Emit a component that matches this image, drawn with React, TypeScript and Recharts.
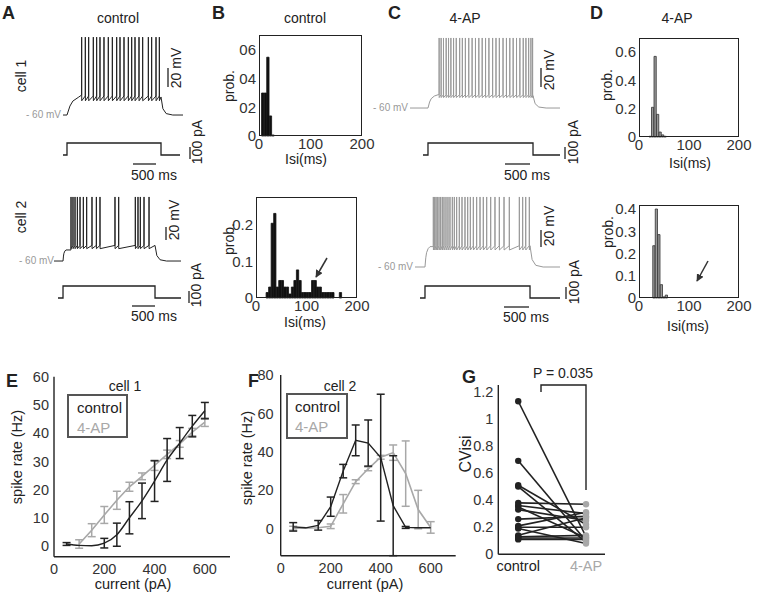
import React from 'react';
import { LineChart, Line, XAxis, YAxis, BarChart, Bar, ErrorBar } from 'recharts';

const FONT = '"Liberation Sans", Arial, Helvetica, sans-serif';
const BLACK = '#222';
const GRAY = '#a8a8a8';
const TRACE_GRAY = '#999';

// ---------- Panels A / C : spike times (ms after current-step onset) ----------
const spikesA1 = [312, 390, 461, 560, 631, 702, 787, 879, 965, 1057, 1128, 1213, 1305, 1376, 1447, 1532, 1610, 1731, 1801, 1894, 1965];
const spikesA2 = [174, 217, 261, 312, 370, 442, 514, 630, 725, 804, 1130, 1210, 1572, 1630, 1681, 1761, 1870];
const spikesC1 = [212, 250, 295, 346, 391, 436, 487, 538, 603, 654, 712, 776, 840, 904, 968, 1032, 1096, 1160, 1231, 1295, 1359, 1429, 1494, 1558, 1622, 1686, 1750, 1814, 1865, 1917, 1960, 1992];
const spikesC2 = [159, 184, 210, 235, 267, 298, 330, 362, 400, 438, 476, 521, 559, 603, 654, 705, 762, 813, 864, 921, 984, 1048, 1111, 1175, 1251, 1333, 1416, 1505, 1606, 1797, 1860, 1918, 1987];

// membrane levels (mV): rest, plateau start, threshold, spike peak, after-hyperpolarisation, plateau end
const restMv = [-60, -60, -60, -60];
const plateauStartMv = [-39, -43, -46, -36];
const thresholdMv = [-40, -36, -46, -35];
const peakMv = [22, 38.5, 13.7, 22.4];
const ahpMv = [-45, -41, -49, -40];
const plateauEndMv = [-41, -36, -47, -35];
const chargeTauMs = [250, 40, 120, 60];
const stepDurationMs = 2000;
const stepAmpPa = [100, 100, 100, 100];

// ---------- Panels B / D : ISI histograms ----------
const bTopBins = [7.5, 12.5, 17.5, 22.5, 27.5];
const bTopProb = [0.3, 0.3, 0.55, 0.14, 0.007];
const bBotBins = [22.5, 27.5, 32.5, 37.5, 42.5, 47.5, 52.5, 57.5, 62.5, 67.5, 72.5, 77.5, 82.5, 87.5, 92.5, 97.5, 102.5, 107.5, 112.5, 117.5, 122.5, 127.5, 132.5, 137.5, 142.5, 147.5, 152.5, 157.5, 162.5, 167.5];
const bBotProb = [0.015, 0.03, 0.205, 0.232, 0.03, 0.048, 0.048, 0.03, 0.03, 0.011, 0.03, 0.048, 0.077, 0.048, 0.015, 0.015, 0.015, 0.015, 0.048, 0.048, 0.03, 0.03, 0.015, 0.015, 0.015, 0.015, 0.015, 0, 0, 0.015];
const dTopBins = [22.5, 27.5, 32.5, 37.5, 42.5, 47.5, 52.5];
const dTopProb = [0.005, 0.21, 0.57, 0.16, 0.035, 0.015, 0.005];
const dBotBins = [30, 35, 40, 45, 50, 55];
const dBotProb = [0.235, 0.4, 0.285, 0.06, 0.005, 0.013];
const isiTicks = [0, 100, 200];
const bTopYTicks = [0, 0.2, 0.4, 0.6];
const bTopYLabels = ['0', '02', '04', '06'];
const bBotYTicks = [0, 0.1, 0.2];
const bBotYLabels = ['0', '0.1', '0.2'];
const dTopYTicks = [0, 0.2, 0.4, 0.6];
const dTopYLabels = ['0', '0.2', '0.4', '0.6'];
const dBotYTicks = [0, 0.1, 0.2, 0.3, 0.4];
const dBotYLabels = ['0', '0.1', '0.2', '0.3', '0.4'];

// ---------- Panels E / F : f-I curves ----------
const currentsPa = [50, 100, 150, 200, 250, 300, 350, 400, 450, 500, 550, 600];
const eCtrlRate = [0.7, 0.2, 0.1, 1.0, 4.0, 10.0, 16.0, 23.0, 30.5, 36.5, 42.5, 48.0];
const eCtrlErr = [0.5, 0, 0, 1.7, 4.1, 5.7, 6.3, 7.2, 7.6, 5.5, 3.8, 2.9];
const eApCurrentsPa = [100, 150, 200, 250, 300, 350, 400, 450, 500, 550, 600];
const eApRate = [0.7, 5.6, 11.0, 16.2, 21.0, 24.7, 28.6, 32.5, 36.2, 40.4, 43.9];
const eApErr = [1.5, 2.3, 3.0, 3.2, 1.6, 1.2, 1.8, 1.5, 1.2, 1.3, 1.5];
const fCtrlRate = [1.0, 0.5, 1.8, 11.5, 30.0, 46.0, 44.6, 37.0, 12.0, 0.7, 0.5, 0.5];
const fCtrlErr = [2.2, 0, 2.5, 5.0, 3.5, 8.0, 12.0, 33.0, 26.0, 0.5, 0, 0];
const fApRate = [0.3, 0.3, 0.5, 1.3, 13.0, 24.5, 31.2, 37.2, 39.6, 28.7, 10.0, 0.7];
const fApErr = [1.0, 0, 0, 1.2, 4.8, 1.0, 1.0, 1.0, 4.0, 17.0, 10.0, 3.0];
const currentTicks = [0, 200, 400, 600];
const eRateTicks = [0, 10, 20, 30, 40, 50, 60];
const fRateTicks = [0, 20, 40, 60, 80];

// ---------- Panel G : CV of ISI, paired ----------
const gCategories = ['control', '4-AP'];
const gControl = [1.13, 0.69, 0.51, 0.5, 0.38, 0.36, 0.35, 0.33, 0.26, 0.21, 0.2, 0.19, 0.14, 0.13, 0.12, 0.11];
const gAP = [0.13, 0.1, 0.22, 0.09, 0.37, 0.3, 0.12, 0.25, 0.28, 0.31, 0.2, 0.08, 0.27, 0.14, 0.12, 0.11];
const gTicks = [0, 0.2, 0.4, 0.6, 0.8, 1, 1.2];

// ---------- builders ----------
type Pt = { t: number; v: number };
function buildVoltage(spikes: number[], k: number, t0: number, t1: number): Pt[] {
  const rest = restMv[k], p0 = plateauStartMv[k], thr = thresholdMv[k];
  const pk = peakMv[k], ahp = ahpMv[k], p1 = plateauEndMv[k], tau = chargeTauMs[k];
  const off = stepDurationMs;
  const pts: Pt[] = [{ t: t0, v: rest }, { t: 0, v: rest }];
  const charge = [[0.25, 0.45], [0.5, 0.7], [1, 0.9], [1.6, 1]];
  charge.forEach(([f, frac]) => {
    const t = f * tau;
    if (t < spikes[0] - 3) pts.push({ t, v: rest + (p0 - rest) * frac });
  });
  spikes.forEach((s, i) => {
    pts.push({ t: s - 1.5, v: i === 0 ? p0 : thr });
    pts.push({ t: s, v: pk });
    pts.push({ t: s + 1.5, v: ahp });
  });
  pts.push({ t: off, v: p1 });
  pts.push({ t: off + 40, v: rest + (p1 - rest) * 0.35 });
  pts.push({ t: off + 110, v: rest + (p1 - rest) * 0.08 });
  pts.push({ t: off + 250, v: rest });
  pts.push({ t: t1, v: rest });
  return pts;
}
function buildCurrent(k: number, t0: number, t1: number): Pt[] {
  const a = stepAmpPa[k];
  return [
    { t: t0, v: 0 }, { t: 0, v: 0 }, { t: 0, v: a },
    { t: stepDurationMs, v: a }, { t: stepDurationMs, v: 0 }, { t: t1, v: 0 },
  ];
}

function Trace(props: { left: number; top: number; width: number; height: number; data: Pt[]; dx: [number, number]; dy: [number, number]; color: string; sw: number }) {
  const { left, top, width, height, data, dx, dy, color, sw } = props;
  return (
    <div style={{ position: 'absolute', left, top }}>
      <LineChart width={width} height={height} data={data} margin={{ top: 0, right: 0, bottom: 0, left: 0 }}>
        <XAxis type="number" dataKey="t" domain={dx} hide allowDataOverflow />
        <YAxis type="number" domain={dy} hide allowDataOverflow />
        <Line type="linear" dataKey="v" stroke={color} strokeWidth={sw} dot={false} isAnimationActive={false} />
      </LineChart>
    </div>
  );
}

type Box = { x: number; y: number; w: number; h: number };
function Hist(props: { box: Box; bins: number[]; probs: number[]; yMax: number; yTicks: number[]; yLabels: string[]; fill: string; stroke: string; binW: number }) {
  const { box, bins, probs, yMax, yTicks, yLabels, fill, stroke, binW } = props;
  const data = bins.map((b, i) => ({ bin: b, p: probs[i] }));
  const yw = 40, mt = 5, mr = 14, xh = 26;
  const tickStyle = { fontSize: 15, fill: '#333', fontFamily: FONT };
  return (
    <div style={{ position: 'absolute', left: box.x - yw, top: box.y - mt }}>
      <BarChart width={yw + box.w + mr} height={mt + box.h + xh} data={data} margin={{ top: mt, right: mr, bottom: 0, left: 0 }} barCategoryGap={0} barGap={0}>
        <XAxis type="number" dataKey="bin" domain={[0, 200]} ticks={isiTicks} height={xh} tickLine={false} axisLine={false} tickSize={0} tickMargin={2} tick={tickStyle} interval={0} />
        <YAxis type="number" domain={[0, yMax]} ticks={yTicks} tickFormatter={(v: number, i: number) => yLabels[i]} width={yw} tickLine={false} axisLine={false} tickSize={0} tickMargin={3} tick={tickStyle} interval={0} />
        <Bar dataKey="p" fill={fill} stroke={stroke} strokeWidth={0.8} barSize={(box.w * binW) / 200} isAnimationActive={false} />
      </BarChart>
      <div style={{ position: 'absolute', left: yw, top: mt, width: box.w, height: box.h, border: '1px solid #222', boxSizing: 'border-box', pointerEvents: 'none' }} />
    </div>
  );
}

const axisLine = { stroke: BLACK, strokeWidth: 1.4 };
const tick14 = { fontSize: 14.5, fill: '#333', fontFamily: FONT };

function GTick(p: any) {
  const v = p.payload.value;
  return (
    <text x={p.x} y={p.y} dy={17} textAnchor="middle" fontSize={14.5} fontFamily={FONT} fill={v === 1 ? BLACK : GRAY}>
      {gCategories[v - 1]}
    </text>
  );
}

const VText = (p: { x: number; y: number; size?: number; fill?: string; children: React.ReactNode }) => (
  <text x={p.x} y={p.y} transform={`rotate(-90 ${p.x} ${p.y})`} textAnchor="middle" dominantBaseline="central" fontSize={p.size ?? 14} fill={p.fill ?? BLACK}>
    {p.children}
  </text>
);

export default function App() {
  const A1 = buildVoltage(spikesA1, 0, -85, 2468);
  const A1i = buildCurrent(0, -85, 2404);
  const A2 = buildVoltage(spikesA2, 1, -196, 2565);
  const A2i = buildCurrent(1, -109, 2565);
  const C1 = buildVoltage(spikesC1, 2, -343, 2514);
  const C1i = buildCurrent(2, -95, 2514);
  const C2 = buildVoltage(spikesC2, 3, -190, 2571);
  const C2i = buildCurrent(3, -95, 2571);

  const eCtrl = currentsPa.map((c, i) => ({ x: c, y: eCtrlRate[i], e: eCtrlErr[i] }));
  const eAp = eApCurrentsPa.map((c, i) => ({ x: c, y: eApRate[i], e: eApErr[i] }));
  const fCtrl = currentsPa.map((c, i) => ({ x: c, y: fCtrlRate[i], e: fCtrlErr[i] }));
  const fAp = currentsPa.map((c, i) => ({ x: c, y: fApRate[i], e: fApErr[i] }));
  const gData = [
    Object.fromEntries([['x', 1], ...gControl.map((v, i) => [`p${i}`, v])]),
    Object.fromEntries([['x', 2], ...gAP.map((v, i) => [`p${i}`, v])]),
  ];

  const gDot = (p: any) => (
    <circle key={`${p.dataKey}-${p.index}`} cx={p.cx} cy={p.cy} r={3.2} fill={p.payload.x === 1 ? BLACK : GRAY} stroke="none" />
  );

  return (
    <div style={{ position: 'absolute', left: 0, top: 0, width: 757, height: 595, background: '#fff', overflow: 'hidden', fontFamily: FONT }}>
      {/* A */}
      <Trace left={63} top={30} width={120} height={95} data={A1} dx={[-85, 2468]} dy={[-70.5, 29.5]} color={BLACK} sw={1} />
      <Trace left={63} top={140} width={117} height={18} data={A1i} dx={[-85, 2404]} dy={[-25, 125]} color={BLACK} sw={1.3} />
      <Trace left={54} top={190} width={127} height={80} data={A2} dx={[-196, 2565]} dy={[-73.8, 49.2]} color={BLACK} sw={1} />
      <Trace left={58} top={283} width={123} height={18} data={A2i} dx={[-109, 2565]} dy={[-25, 125]} color={BLACK} sw={1.3} />
      {/* C */}
      <Trace left={410} top={30} width={150} height={90} data={C1} dx={[-343, 2514]} dy={[-72.6, 22.1]} color={TRACE_GRAY} sw={1} />
      <Trace left={423} top={140} width={137} height={18} data={C1i} dx={[-95, 2514]} dy={[-25, 125]} color={BLACK} sw={1.3} />
      <Trace left={415} top={190} width={145} height={85} data={C2} dx={[-190, 2571]} dy={[-69.4, 30.6]} color={TRACE_GRAY} sw={1} />
      <Trace left={420} top={283} width={140} height={18} data={C2i} dx={[-95, 2571]} dy={[-25, 125]} color={BLACK} sw={1.3} />

      {/* B, D */}
      <Hist box={{ x: 259, y: 35, w: 103, h: 101 }} bins={bTopBins} probs={bTopProb} yMax={0.705} yTicks={bTopYTicks} yLabels={bTopYLabels} fill="#111" stroke="#111" binW={5} />
      <Hist box={{ x: 256, y: 197, w: 101, h: 101 }} bins={bBotBins} probs={bBotProb} yMax={0.277} yTicks={bBotYTicks} yLabels={bBotYLabels} fill="#111" stroke="#111" binW={5} />
      <Hist box={{ x: 639, y: 38, w: 100, h: 99 }} bins={dTopBins} probs={dTopProb} yMax={0.7} yTicks={dTopYTicks} yLabels={dTopYLabels} fill="#999" stroke="#333" binW={5} />
      <Hist box={{ x: 639, y: 205, w: 100, h: 93 }} bins={dBotBins} probs={dBotProb} yMax={0.418} yTicks={dBotYTicks} yLabels={dBotYLabels} fill="#999" stroke="#333" binW={5} />

      {/* E */}
      <div style={{ position: 'absolute', left: 0, top: 360 }}>
        <LineChart width={240} height={226.7} margin={{ top: 16.8, right: 10, bottom: 0, left: 0 }}>
          <XAxis type="number" dataKey="x" domain={[0, 700]} ticks={currentTicks} height={30} tickLine={false} tickSize={0} tickMargin={7} axisLine={axisLine} tick={tick14} allowDataOverflow interval={0} />
          <YAxis type="number" domain={[-3.8, 60]} ticks={eRateTicks} width={54} tickLine={false} tickSize={0} tickMargin={5} axisLine={axisLine} tick={tick14} allowDataOverflow interval={0} />
          <Line data={eAp} dataKey="y" type="linear" stroke={GRAY} strokeWidth={1.6} dot={false} isAnimationActive={false}>
            <ErrorBar dataKey="e" width={4} stroke={GRAY} strokeWidth={1.5} direction="y" />
          </Line>
          <Line data={eCtrl} dataKey="y" type="monotone" stroke={BLACK} strokeWidth={1.4} dot={false} isAnimationActive={false}>
            <ErrorBar dataKey="e" width={4} stroke={BLACK} strokeWidth={1.5} direction="y" />
          </Line>
        </LineChart>
      </div>

      {/* F */}
      <div style={{ position: 'absolute', left: 240, top: 360 }}>
        <LineChart width={225.7} height={233.7} margin={{ top: 15, right: 10, bottom: 0, left: 0 }}>
          <XAxis type="number" dataKey="x" domain={[0, 700]} ticks={currentTicks} height={38} tickLine={false} tickSize={0} tickMargin={7} axisLine={axisLine} tick={tick14} interval={0} />
          <YAxis type="number" domain={[-1.5, 80]} ticks={fRateTicks} width={40.7} tickLine={false} tickSize={0} tickMargin={7} axisLine={axisLine} tick={tick14} interval={0} />
          <Line data={fAp} dataKey="y" type="linear" stroke={GRAY} strokeWidth={1.6} dot={false} isAnimationActive={false}>
            <ErrorBar dataKey="e" width={4} stroke={GRAY} strokeWidth={1.5} direction="y" />
          </Line>
          <Line data={fCtrl} dataKey="y" type="linear" stroke={BLACK} strokeWidth={1.4} dot={false} isAnimationActive={false}>
            <ErrorBar dataKey="e" width={4} stroke={BLACK} strokeWidth={1.5} direction="y" />
          </Line>
        </LineChart>
      </div>

      {/* G */}
      <div style={{ position: 'absolute', left: 458, top: 370 }}>
        <LineChart width={152} height={214.3} data={gData} margin={{ top: 15, right: 5, bottom: 0, left: 0 }}>
          <XAxis type="number" dataKey="x" domain={[0.706, 2.28]} ticks={[1, 2]} height={30} tickLine={false} tickSize={0} tickMargin={0} axisLine={axisLine} tick={<GTick />} interval={0} />
          <YAxis type="number" domain={[0, 1.25]} ticks={gTicks} width={40.3} tickLine={false} tickSize={0} tickMargin={5} axisLine={axisLine} tick={tick14} interval={0} />
          {gControl.map((_, i) => (
            <Line key={i} dataKey={`p${i}`} type="linear" stroke={BLACK} strokeWidth={1.6} dot={gDot} isAnimationActive={false} />
          ))}
        </LineChart>
      </div>

      {/* annotations */}
      <svg width={757} height={595} style={{ position: 'absolute', left: 0, top: 0, pointerEvents: 'none' }} fontFamily={FONT}>
        <defs>
          <marker id="ah" viewBox="0 0 10 10" refX="9" refY="5" markerWidth="5" markerHeight="5" orient="auto">
            <path d="M0,0 L10,5 L0,10 z" fill="#333" />
          </marker>
        </defs>
        <g fontWeight="bold" fontSize={18} fill={BLACK}>
          <text x={2} y={19}>A</text>
          <text x={212} y={19}>B</text>
          <text x={388} y={19}>C</text>
          <text x={590} y={19}>D</text>
          <text x={6} y={387}>E</text>
          <text x={248} y={387}>F</text>
          <text x={462} y={383}>G</text>
        </g>
        <g fontSize={14} fill={BLACK} textAnchor="middle">
          <text x={118} y={23}>control</text>
          <text x={305} y={23}>control</text>
          <text x={465} y={23}>4-AP</text>
          <text x={677} y={23}>4-AP</text>
          <text x={125} y={391}>cell 1</text>
          <text x={340} y={391}>cell 2</text>
        </g>
        <VText x={21} y={76}>cell 1</VText>
        <VText x={21} y={217}>cell 2</VText>
        <g fontSize={10} fill="#999" textAnchor="end">
          <text x={61} y={118}>- 60 mV</text>
          <text x={54} y={264}>- 60 mV</text>
          <text x={408} y={111}>- 60 mV</text>
          <text x={413} y={270}>- 60 mV</text>
        </g>
        <g stroke={BLACK} strokeWidth={1.3}>
          <line x1={168} y1={68} x2={168} y2={87} />
          <line x1={190} y1={147} x2={190} y2={159} />
          <line x1={133} y1={164} x2={156} y2={164} />
          <line x1={166} y1={227} x2={166} y2={240} />
          <line x1={189} y1={291} x2={189} y2={303} />
          <line x1={132} y1={306} x2={155} y2={306} />
          <line x1={541} y1={68} x2={541} y2={87} />
          <line x1={565} y1={147} x2={565} y2={159} />
          <line x1={505} y1={164} x2={530} y2={164} />
          <line x1={541} y1={230} x2={541} y2={247} />
          <line x1={566} y1={287} x2={566} y2={299} />
          <line x1={504} y1={307} x2={529} y2={307} />
        </g>
        <g fontSize={14} fill={BLACK}>
          <VText x={176} y={68}>20 mV</VText>
          <VText x={197} y={142}>100 pA</VText>
          <text x={131} y={180}>500 ms</text>
          <VText x={174} y={220}>20 mV</VText>
          <VText x={196} y={285}>100 pA</VText>
          <text x={131} y={321}>500 ms</text>
          <VText x={549} y={70}>20 mV</VText>
          <VText x={573} y={142}>100 pA</VText>
          <text x={504} y={180}>500 ms</text>
          <VText x={549} y={226}>20 mV</VText>
          <VText x={574} y={282}>100 pA</VText>
          <text x={503} y={322}>500 ms</text>
        </g>
        <VText x={229} y={86}>prob.</VText>
        <VText x={229} y={239}>prob.</VText>
        <VText x={607} y={85}>prob.</VText>
        <VText x={608} y={232}>prob.</VText>
        <g fontSize={14} fill={BLACK} textAnchor="middle">
          <text x={306} y={164}>Isi(ms)</text>
          <text x={305} y={327}>Isi(ms)</text>
          <text x={690} y={168}>Isi(ms)</text>
          <text x={688} y={331}>Isi(ms)</text>
        </g>
        <line x1={327} y1={258} x2={316} y2={277} stroke="#333" strokeWidth={1.5} markerEnd="url(#ah)" />
        <line x1={708} y1={261} x2={697} y2={281} stroke="#333" strokeWidth={1.5} markerEnd="url(#ah)" />
        <VText x={17} y={457} size={14.5}>spike rate (Hz)</VText>
        <VText x={247} y={458} size={14.5}>spike rate (Hz)</VText>
        <g fontSize={14.5} fill={BLACK} textAnchor="middle">
          <text x={133} y={589}>current (pA)</text>
          <text x={365} y={589}>current (pA)</text>
        </g>
        <rect x={68} y={395} width={59} height={42} fill="none" stroke="#555" strokeWidth={2} />
        <text x={77} y={413} fontSize={15} fill={BLACK}>control</text>
        <text x={77} y={433} fontSize={15} fill={GRAY}>4-AP</text>
        <rect x={287} y={394} width={60} height={44} fill="none" stroke="#555" strokeWidth={2} />
        <text x={295} y={412} fontSize={15} fill={BLACK}>control</text>
        <text x={295} y={432} fontSize={15} fill={GRAY}>4-AP</text>
        <VText x={465} y={454} size={16}>CVisi</VText>
        <text x={563} y={378} fontSize={14} textAnchor="middle" fill={BLACK}>P = 0.035</text>
        <polyline points="541,392 541,385 586,385 586,490" fill="none" stroke={BLACK} strokeWidth={1.4} />
      </svg>
    </div>
  );
}
